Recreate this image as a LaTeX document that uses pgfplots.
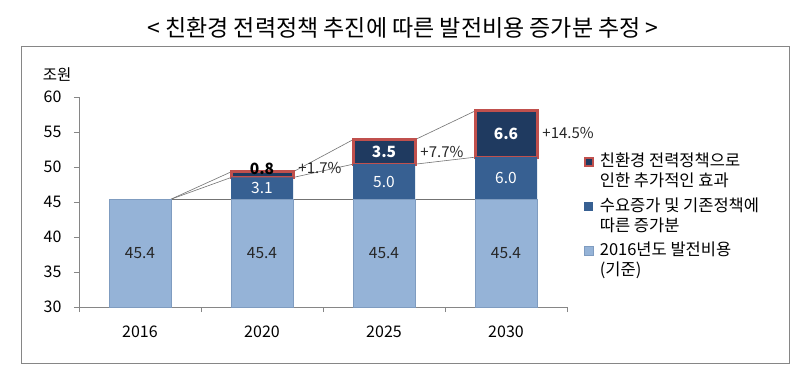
\documentclass[border=0pt]{standalone}
\usepackage{fontspec}
\setmainfont{Noto Sans CJK KR}
\usepackage{pgfplots}
\pgfplotsset{compat=1.18}
\definecolor{lightb}{HTML}{95B3D7}
\definecolor{lightbd}{HTML}{7F9CC0}
\definecolor{midb}{HTML}{376092}
\definecolor{darkb}{HTML}{1F3A60}
\definecolor{redb}{HTML}{C0504D}
\definecolor{axgray}{HTML}{868686}
\pgfplotsset{
  basex/.style={
    at={(79pt,71pt)}, anchor=south west, scale only axis,
    width=488pt, height=210pt,
    xmin=-0.5, xmax=3.5, ymin=30, ymax=60,
  },
}
\begin{document}
\begin{tikzpicture}
\useasboundingbox (0,0) rectangle (811pt,378pt);
\fill[white] (0,0) rectangle (811pt,378pt);
\draw[axgray, line width=0.8pt] (21pt,15pt) rectangle (789pt,332pt);
\node[font=\fontsize{23}{26}\selectfont] at (403pt,350pt) {< 친환경 전력정책 추진에 따른 발전비용 증가분 추정 >};
\node[font=\fontsize{15.5}{18}\selectfont, anchor=east] at (75pt,303pt) {조원};

% series lines
\begin{axis}[basex, axis lines=none, unbounded coords=jump, clip=false]
\addplot[black!55, line width=0.6pt] coordinates {(0.254,45.4) (0.746,45.4) (1,nan) (1.254,45.4) (1.746,45.4) (2,nan) (2.254,45.4) (2.746,45.4)};
\addplot[black!55, line width=0.6pt] coordinates {(0.254,45.4) (0.746,48.5) (1,nan) (1.254,48.5) (1.746,50.4) (2,nan) (2.254,50.4) (2.746,51.4)};
\addplot[black!55, line width=0.6pt] coordinates {(0.254,45.4) (0.746,49.3) (1,nan) (1.254,49.3) (1.746,53.9) (2,nan) (2.254,53.9) (2.746,58.0)};
\end{axis}

% main axis with 2016 bar
\begin{axis}[basex, ybar, bar width=62pt,
  axis x line*=bottom, axis y line*=left,
  axis line style={axgray, line width=0.8pt},
  ytick={30,35,...,60},
  xtick={0,1,2,3}, xticklabels={2016,2020,2025,2030},
  minor xtick={-0.5,0.5,1.5,2.5,3.5},
  tick align=outside, major tick length=5pt, minor tick length=5pt,
  major x tick style={draw=none},
  minor x tick style={axgray, line width=0.8pt},
  ytick style={axgray, line width=0.8pt},
  tick label style={font=\fontsize{16}{18}\selectfont},
  /pgf/number format/assume math mode=true,
  yticklabel style={xshift=-9pt},
  xticklabel style={yshift=-10pt},
]
\addplot[fill=lightb, draw=lightbd, line width=0.5pt] coordinates {(0,45.4)};
\end{axis}

% stacked bars
\begin{axis}[basex, axis lines=none, ybar stacked, bar width=62pt,
  reverse legend,
  legend style={draw=none, fill=none, at={(axis description cs:1.028,0.75)}, anchor=north west,
    font=\fontsize{16.5}{20}\selectfont, row sep=27pt, column sep=5pt,
    nodes={inner sep=1pt}, cells={anchor=base west}},
]
\addplot[fill=lightb, draw=lightbd, line width=0.5pt,
  legend image code/.code={\draw[fill=lightb, draw=lightbd, line width=0.5pt] (0pt,0pt) rectangle (9pt,9pt);}]
  coordinates {(1,45.4) (2,45.4) (3,45.4)};
\addplot[fill=midb, draw=none,
  legend image code/.code={\fill[midb] (0pt,0pt) rectangle (9pt,9pt);}]
  coordinates {(1,3.1) (2,5.0) (3,6.0)};
\addplot[fill=darkb, draw=redb, line width=3pt,
  legend image code/.code={\draw[fill=darkb, draw=redb, line width=2pt] (0.5pt,0.5pt) rectangle (8.5pt,8.5pt);}]
  coordinates {(1,0.8) (2,3.5) (3,6.6)};
\addlegendentry{\begin{tabular}[t]{@{}l@{}}2016년도 발전비용\\(기준)\end{tabular}}
\addlegendentry{\begin{tabular}[t]{@{}l@{}}수요증가 및 기존정책에\\따른 증가분\end{tabular}}
\addlegendentry{\begin{tabular}[t]{@{}l@{}}친환경 전력정책으로\\인한 추가적인 효과\end{tabular}}
\end{axis}

% labels
\begin{axis}[basex, axis lines=none, clip=false]
\addplot[draw=none, mark=none, nodes near coords, point meta=explicit symbolic,
  nodes near coords align=center,
  every node near coord/.append style={font=\fontsize{15.5}{18}\selectfont, text=black!85}]
  coordinates {(0,37.7)[45.4] (1,37.7)[45.4] (2,37.7)[45.4] (3,37.7)[45.4]};
\addplot[draw=none, mark=none, nodes near coords, point meta=explicit symbolic,
  nodes near coords align=center,
  every node near coord/.append style={font=\fontsize{15.5}{18}\selectfont, text=white}]
  coordinates {(1,46.95)[3.1] (2,47.9)[5.0] (3,48.4)[6.0]};
\addplot[draw=none, mark=none, nodes near coords, point meta=explicit symbolic,
  nodes near coords align=center,
  every node near coord/.append style={font=\fontsize{15.5}{18}\selectfont\bfseries, text=white}]
  coordinates {(2,52.15)[3.5] (3,54.7)[6.6]};
\addplot[draw=none, mark=none, nodes near coords, point meta=explicit symbolic,
  nodes near coords align=center,
  every node near coord/.append style={font=\fontsize{15.5}{18}\selectfont\bfseries, text=black}]
  coordinates {(1,49.8)[0.8]};
\addplot[draw=none, mark=none, nodes near coords, point meta=explicit symbolic,
  nodes near coords align=west,
  every node near coord/.append style={font=\fontsize{15}{18}\selectfont, text=black!85, anchor=west}]
  coordinates {(1.27,49.8)[+1.7\%] (2.27,52.1)[+7.7\%] (3.27,54.9)[+14.5\%]};
\end{axis}
\end{tikzpicture}
\end{document}
